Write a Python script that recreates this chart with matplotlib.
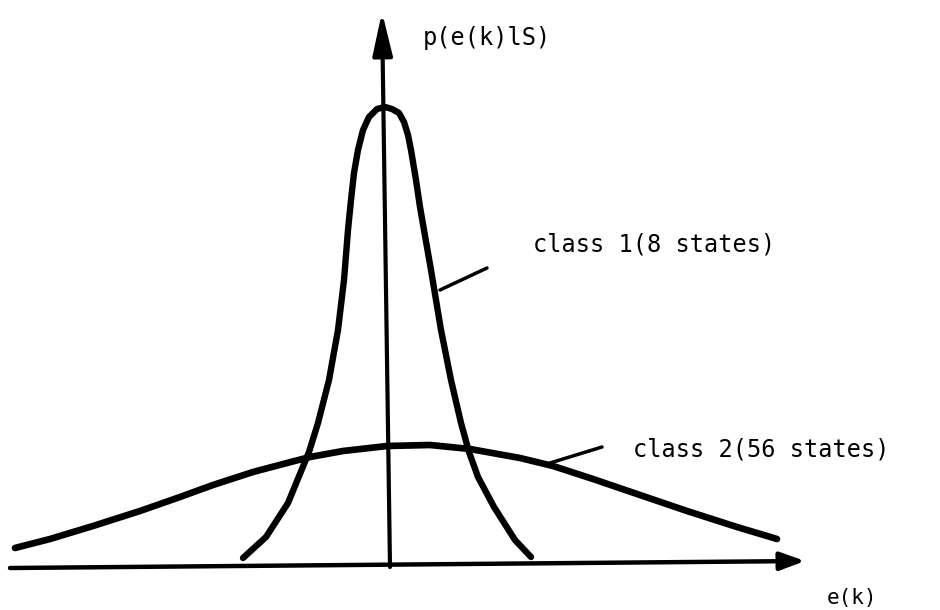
import matplotlib
matplotlib.use("Agg")
import matplotlib.pyplot as plt

# ---- data (e = error, p = density, arbitrary units) ----
class1_e = [-1.45, -1.22, -1.00, -0.79, -0.70, -0.59, -0.50, -0.44, -0.40, -0.37, -0.34,
            -0.30, -0.25, -0.19, -0.11, -0.03,
            0.04, 0.11, 0.16, 0.20, 0.23, 0.28, 0.32, 0.36, 0.43, 0.53, 0.63,
            0.73, 0.81, 0.90, 1.06, 1.27, 1.43]
class1_p = [0.10, 0.31, 0.65, 1.16, 1.45, 1.88, 2.38, 2.88, 3.38, 3.68, 3.95,
            4.18, 4.38, 4.51, 4.59, 4.61,
            4.59, 4.55, 4.46, 4.33, 4.18, 3.88, 3.61, 3.38, 2.98, 2.38, 1.88,
            1.45, 1.16, 0.91, 0.61, 0.28, 0.11]

class2_e = [-3.73, -3.38, -2.95, -2.48, -2.08, -1.75, -1.35, -1.01, -0.78, -0.45,
            -0.01, 0.42, 0.82, 1.32, 1.65, 2.05, 2.49, 2.99, 3.49, 3.89]
class2_p = [0.20, 0.29, 0.42, 0.57, 0.71, 0.83, 0.96, 1.05, 1.11, 1.17,
            1.22, 1.23, 1.19, 1.10, 1.02, 0.89, 0.74, 0.57, 0.41, 0.29]

y_label = "p(e(k)lS)"
x_label = "e(k)"
class1_label = "class 1(8 states)"
class2_label = "class 2(56 states)"

fig = plt.figure(figsize=(9.4, 6.1), dpi=100)
ax = fig.add_axes([0, 0, 1, 1])
ax.set_xlim(-3.88, 5.52)
ax.set_ylim(-0.42, 5.68)
ax.axis("off")

font = dict(family="DejaVu Sans Mono", fontsize=17, color="black")

# axes with arrows
ax.annotate("", xy=(4.17, 0.07), xytext=(-3.78, 0.0),
            arrowprops=dict(arrowstyle="-|>,head_length=1.5,head_width=0.55",
                            lw=3.2, color="black", shrinkA=0, shrinkB=0))
ax.annotate("", xy=(-0.06, 5.56), xytext=(0.02, 0.01),
            arrowprops=dict(arrowstyle="-|>,head_length=2.6,head_width=0.6",
                            lw=3.0, color="black", shrinkA=0, shrinkB=0))

# curves
ax.plot(class1_e, class1_p, color="black", lw=4.6, solid_capstyle="round", solid_joinstyle="round")
ax.plot(class2_e, class2_p, color="black", lw=4.8, solid_capstyle="round", solid_joinstyle="round")

# leader lines
ax.plot([0.52, 0.99], [2.78, 3.00], color="black", lw=2.5, solid_capstyle="round")
ax.plot([1.62, 2.14], [1.05, 1.21], color="black", lw=2.5, solid_capstyle="round")

# labels
ax.text(0.35, 5.30, y_label, va="center", ha="left", **font)
ax.text(1.45, 3.23, class1_label, va="center", ha="left", **font)
ax.text(2.45, 1.18, class2_label, va="center", ha="left", **font)
ax.text(4.39, -0.20, x_label, va="top", ha="left", family="DejaVu Sans Mono",
        fontsize=15, color="black")

fig.savefig("out.png", dpi=100)
